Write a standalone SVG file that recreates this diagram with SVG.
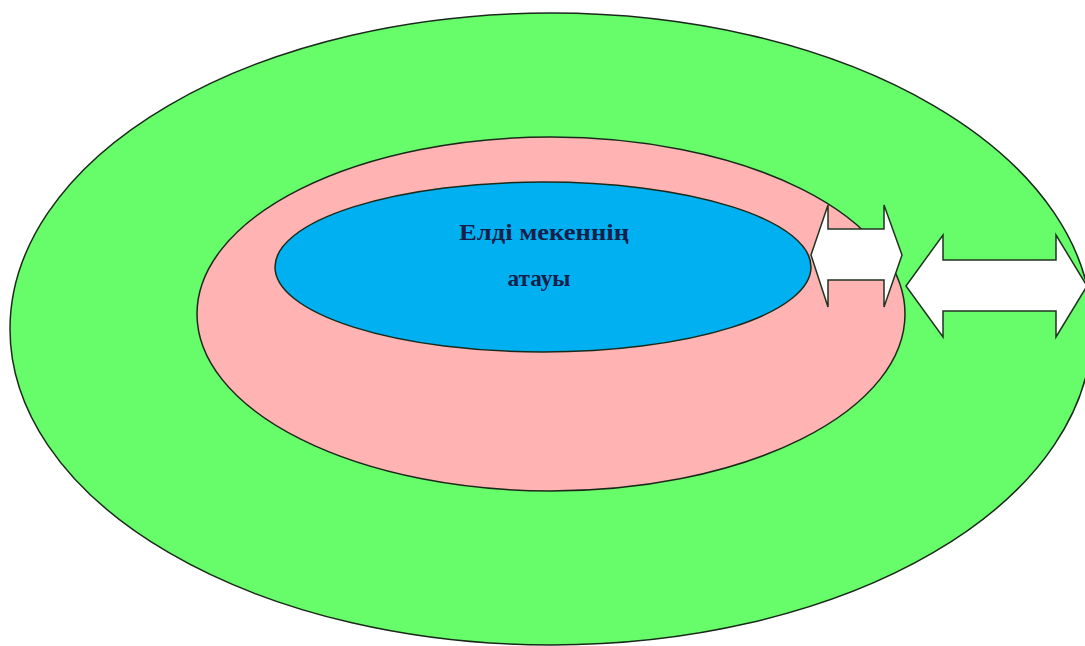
<svg xmlns="http://www.w3.org/2000/svg" width="1085" height="646" viewBox="0 0 1085 646">
<style>
.sh{stroke:#1a2a1a;stroke-width:1.5}
.arrow{fill:#ffffff;stroke:#1f3320;stroke-width:1.5;stroke-linejoin:miter}
.t{font-family:"Liberation Serif",serif;font-weight:bold;font-size:23px;fill:#15204a;text-anchor:middle}
</style>
<rect width="1085" height="646" fill="#ffffff"/>
<g id="outer"><ellipse class="sh" cx="551" cy="329" rx="541" ry="316" fill="#66fc6a"/></g>
<g id="middle"><ellipse class="sh" cx="551" cy="314" rx="354" ry="177" fill="#ffb3b3"/></g>
<g id="inner"><ellipse class="sh" cx="543" cy="267" rx="268" ry="85" fill="#00b0f0"/>
<text class="t" x="544" y="240" textLength="170" lengthAdjust="spacingAndGlyphs">Елді мекеннің</text>
<text class="t" x="539" y="286" textLength="63" lengthAdjust="spacingAndGlyphs">атауы</text></g>
<g id="connectors">
<polygon class="arrow" points="811,255 828,205 828,229 884,229 884,205 902,255 884,307 884,280 828,280 828,307"/>
<polygon class="arrow" points="906,286 943,235 943,260 1056,260 1056,235 1087,286 1056,337 1056,311 943,311 943,337"/>
</g>
</svg>
